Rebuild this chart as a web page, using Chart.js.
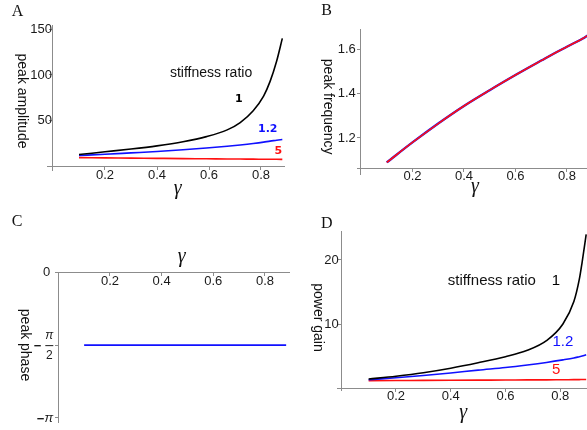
<!DOCTYPE html>
<html>
<head>
<meta charset="utf-8">
<script src="https://cdn.jsdelivr.net/npm/chart.js@4.4.1/dist/chart.umd.min.js"></script>
<style>
  html, body { margin: 0; padding: 0; background: #fff; }
  #fig { position: relative; width: 587px; height: 430px; overflow: hidden; }
  #fig canvas { position: absolute; }
</style>
</head>
<body>
<div id="fig">
  <canvas id="chartA" width="293" height="205" style="left:0px;top:0px"></canvas>
  <canvas id="chartB" width="294" height="205" style="left:293px;top:0px"></canvas>
  <canvas id="chartC" width="293" height="225" style="left:0px;top:205px"></canvas>
  <canvas id="chartD" width="294" height="225" style="left:293px;top:205px"></canvas>
</div>
<script>
// gamma values the curves were read at
var gammaA = [0.1, 0.2, 0.3, 0.4, 0.5, 0.59, 0.67, 0.72, 0.77, 0.81, 0.835, 0.86, 0.882]
var gammaB = [0.1, 0.2, 0.3, 0.4, 0.5, 0.6, 0.65, 0.7, 0.75, 0.8, 0.83, 0.86, 0.882]
var gammaD = [0.1, 0.2, 0.3, 0.4, 0.5, 0.6, 0.68, 0.75, 0.81, 0.85, 0.87, 0.88, 0.895]

// A: peak amplitude, one series per stiffness ratio
var ampRatio1 = [13, 16, 19, 22.5, 27, 32.6, 40, 48, 61, 77, 93, 115, 140]
var ampRatio12 = [12, 13.3, 14.8, 16.3, 18.2, 20.1, 22.1, 23.5, 25.1, 26.6, 27.7, 28.6, 29.5]
var ampRatio5 = [9.6, 9.35, 9.1, 8.85, 8.6, 8.4, 8.2, 8.1, 8, 7.9, 7.85, 7.8, 7.75]

// B: peak frequency (all ratios lie on top of each other)
var freqRatio1 = [1.09, 1.18, 1.265, 1.344, 1.415, 1.483, 1.516, 1.548, 1.58, 1.61, 1.628, 1.646, 1.662]

// C: peak phase
var phaseRatio12 = [-1.571, -1.571, -1.571, -1.571, -1.571, -1.571, -1.571, -1.571, -1.571, -1.571, -1.571, -1.571, -1.571]

// D: power gain
var gainRatio1 = [1.4, 1.85, 2.4, 3.1, 3.95, 4.9, 5.9, 7.4, 10, 13.5, 17, 19.6, 24]
var gainRatio12 = [1.3, 1.6, 1.95, 2.35, 2.8, 3.2, 3.6, 4, 4.4, 4.7, 4.9, 5, 5.2]
var gainRatio5 = [1.15, 1.17, 1.19, 1.21, 1.23, 1.25, 1.27, 1.28, 1.3, 1.31, 1.32, 1.33, 1.34]

// tick values
var gammaTicks = [0.2, 0.4, 0.6, 0.8]
var ampTicks = [50, 100, 150]
var freqTicks = [1.2, 1.4, 1.6]
var phaseTicks = [0, -1.5708, -3.1416]
var phaseTickLabels = ['0', '−π/2', '−π']
var gainTicks = [10, 20]

var axisGray = '#8c8c8c'
var black = '#000000'
var blue = '#1010ff'
var red = '#ff1010'

Chart.defaults.font.family = "'Liberation Sans', Arial, sans-serif"
Chart.defaults.color = '#1a1a1a'

function points(xs, ys) {
  return xs.map(function (x, i) { return { x: x, y: ys[i] } })
}

// note: chart.js draws dataset 0 last, so the first curve ends up on top
function curve(xs, ys, color, width) {
  return {
    data: points(xs, ys),
    borderColor: color,
    borderWidth: width,
    pointRadius: 0,
    fill: false,
    cubicInterpolationMode: 'monotone'
  }
}

// axes cross at a data value (mathematica style), so labels sit right on the axis;
// gap is a few thin spaces after y labels to push them off the axis line
function axis(min, max, ticks, position, showLabels, gap) {
  return {
    type: 'linear',
    min: min,
    max: max,
    position: position,
    afterBuildTicks: function (scale) {
      scale.ticks = ticks.map(function (v) { return { value: v } })
    },
    border: { display: true, color: axisGray, width: 1 },
    grid: { display: true, drawOnChartArea: false, drawTicks: true, tickLength: 3, color: axisGray },
    ticks: {
      display: showLabels,
      padding: -2,
      font: { size: 13 },
      color: '#1a1a1a',
      callback: function (v) { return String(v) + (gap || '') }
    }
  }
}

// free text: panel letters, axis titles, curve labels
// (items kept in a closure, not in chart options, so chart.js does not proxy them)
function textPlugin(items, piLabels) {
  return {
    id: 'figText',
    afterDraw: function (chart) {
      var ctx = chart.ctx
      var sx = chart.scales.x
      var sy = chart.scales.y
      items.forEach(function (it) {
        var px = it.at ? sx.getPixelForValue(it.at[0]) : it.px[0]
        var py = it.at ? sy.getPixelForValue(it.at[1]) : it.px[1]
        ctx.save()
        ctx.font = it.font
        ctx.fillStyle = it.color || '#111'
        ctx.textAlign = 'center'
        ctx.textBaseline = 'middle'
        ctx.translate(px, py)
        if (it.rotate) ctx.rotate(it.rotate)
        ctx.fillText(it.text, 0, 0)
        ctx.restore()
      })
      if (piLabels) drawPiTicks(chart, piLabels)
    }
  }
}

// y tick labels written as fractions of pi (panel C)
function drawPiTicks(chart, labels) {
  var ctx = chart.ctx
  var sy = chart.scales.y
  var right = chart.scales.x.getPixelForValue(0) - 5
  ctx.save()
  ctx.fillStyle = '#1a1a1a'
  ctx.strokeStyle = '#1a1a1a'
  ctx.textBaseline = 'middle'
  sy.ticks.forEach(function (t, i) {
    var label = labels[i]
    var py = sy.getPixelForValue(t.value)
    if (label.indexOf('/') >= 0) {
      var parts = label.replace('−', '').split('/')
      ctx.font = 'italic 12px "Liberation Sans"'
      ctx.textAlign = 'center'
      ctx.fillText(parts[0], right - 4, py - 9)
      ctx.font = '12px "Liberation Sans"'
      ctx.fillText(parts[1], right - 4, py + 11)
      ctx.lineWidth = 1
      ctx.beginPath()
      ctx.moveTo(right - 8, py + 0.5)
      ctx.lineTo(right, py + 0.5)
      ctx.stroke()
      ctx.font = 'bold 13px "Liberation Sans"'
      ctx.textAlign = 'right'
      ctx.fillText('−', right - 12, py + 1)
    } else if (label == '0') {
      ctx.font = '13px "Liberation Sans"'
      ctx.textAlign = 'right'
      ctx.fillText(label, right - 3, py)
    } else {
      ctx.font = 'italic 13px "Liberation Sans"'
      ctx.textAlign = 'right'
      ctx.fillText(label.replace('−', ''), right, py)
      ctx.font = 'bold 13px "Liberation Sans"'
      ctx.fillText('−', right - 9, py + 1)
    }
  })
  ctx.restore()
}

var letterFont = '16px "Liberation Serif"'
var gammaFont = 'italic 20px "Liberation Serif"'
var titleFont = '14px "Liberation Sans"'
var quarter = Math.PI / 2

function baseOptions(pad, scales) {
  return {
    responsive: false,
    devicePixelRatio: 1,
    animation: false,
    layout: { padding: pad },
    scales: scales,
    plugins: {
      legend: { display: false },
      tooltip: { enabled: false }
    }
  }
}

new Chart(document.getElementById('chartA'), {
  type: 'line',
  data: {
    datasets: [
      curve(gammaA, ampRatio1, black, 1.6),
      curve(gammaA, ampRatio12, blue, 1.6),
      curve(gammaA, ampRatio5, red, 1.6)
    ]
  },
  options: baseOptions(
    { left: 47.8, right: 8.6, top: 25.6, bottom: 34.9 },
    { x: axis(-0.02, 0.89, gammaTicks, { y: 0 }, true), y: axis(-4, 154, ampTicks, { x: 0 }, true, '\u200a') }
  ),
  plugins: [textPlugin([
    { text: 'A', px: [17.5, 11.5], font: letterFont },
    { text: 'γ', px: [177.7, 189], font: gammaFont },
    { text: 'peak amplitude', px: [22.3, 101], font: titleFont, rotate: quarter },
    { text: 'stiffness ratio', at: [0.608, 102], font: '14px "Liberation Sans"' },
    { text: '1', at: [0.715, 73.7], font: 'bold 11px "DejaVu Sans"', color: black },
    { text: '1.2', at: [0.826, 41], font: 'bold 11px "DejaVu Sans"', color: blue },
    { text: '5', at: [0.867, 16.8], font: 'bold 11px "DejaVu Sans"', color: red }
  ])]
})

new Chart(document.getElementById('chartB'), {
  type: 'line',
  data: {
    datasets: [
      curve(gammaB, freqRatio1, red, 1.6),
      curve(gammaB, freqRatio1, blue, 2.3)
    ]
  },
  options: baseOptions(
    { left: 64.1, right: 0, top: 29, bottom: 30.3 },
    { x: axis(-0.015, 0.878, gammaTicks, { y: 1.065 }, true), y: axis(1.035, 1.69, freqTicks, { x: 0 }, true, '\u2009\u2009') }
  ),
  plugins: [textPlugin([
    { text: 'B', px: [33.7, 10.5], font: letterFont },
    { text: 'γ', px: [182, 187], font: gammaFont },
    { text: 'peak frequency', px: [35.3, 106.7], font: titleFont, rotate: quarter }
  ])]
})

new Chart(document.getElementById('chartC'), {
  type: 'line',
  data: {
    datasets: [
      curve(gammaB, phaseRatio12, blue, 1.6)
    ]
  },
  options: baseOptions(
    { left: 58.3, right: 3.5, top: 67.3, bottom: 7.4 },
    { x: axis(0, 0.895, gammaTicks, { y: 0 }, true), y: axis(-3.2416, 0, phaseTicks, { x: 0 }, false) }
  ),
  plugins: [textPlugin([
    { text: 'C', px: [17.2, 16.7], font: letterFont },
    { text: 'γ', px: [181.7, 52], font: gammaFont },
    { text: 'peak phase', px: [25, 140], font: titleFont, rotate: quarter }
  ], phaseTickLabels)]
})

new Chart(document.getElementById('chartD'), {
  type: 'line',
  data: {
    datasets: [
      curve(gammaD, gainRatio1, black, 1.6),
      curve(gammaD, gainRatio12, blue, 1.6),
      curve(gammaD, gainRatio5, red, 1.6)
    ]
  },
  options: baseOptions(
    { left: 44.7, right: 0, top: 26.8, bottom: 39.4 },
    { x: axis(-0.013, 0.898, gammaTicks, { y: 0 }, true), y: axis(-0.4, 24.4, gainTicks, { x: 0 }, true, '\u2009') }
  ),
  plugins: [textPlugin([
    { text: 'D', px: [33.7, 18.3], font: letterFont },
    { text: 'γ', px: [170.3, 207.5], font: gammaFont },
    { text: 'power gain', px: [25.3, 112.5], font: titleFont, rotate: quarter },
    { text: 'stiffness ratio', at: [0.55, 16.7], font: '15px "Liberation Sans"' },
    { text: '1', at: [0.784, 16.7], font: '15px "Liberation Sans"', color: black },
    { text: '1.2', at: [0.81, 7.2], font: '15px "Liberation Sans"', color: blue },
    { text: '5', at: [0.785, 2.8], font: '15px "Liberation Sans"', color: red }
  ])]
})
</script>
</body>
</html>
